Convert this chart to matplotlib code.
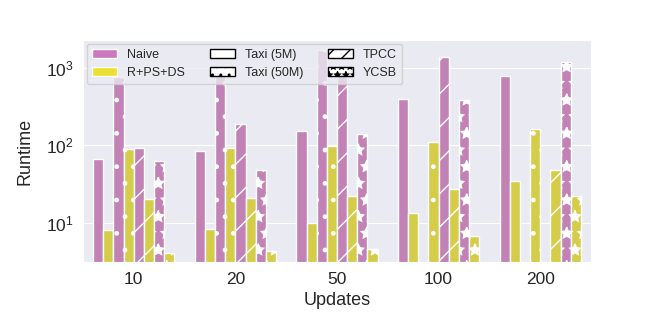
import numpy as np
import matplotlib
matplotlib.use("Agg")
import matplotlib.pyplot as plt
from matplotlib.patches import Patch
import seaborn as sns

updates = ["10", "20", "50", "100", "200"]
methods = ["Naive", "R+PS+DS"]
datasets = ["Taxi (5M)", "Taxi (50M)", "TPCC", "YCSB"]

# runtime per (dataset, method), one value per update count; nan = no bar
naive_taxi5 = [66, 84, 152, 395, 782]
rpsds_taxi5 = [8.1, 8.2, 9.8, 13.5, 34]
naive_taxi50 = [760, 780, 1700, np.nan, np.nan]
rpsds_taxi50 = [88, 91, 98, 111, 163]
naive_tpcc = [91, 186, 800, 1390, np.nan]
rpsds_tpcc = [20, 21, 22.3, 27, 48]
naive_ycsb = [62, 48, 141, 386, 1190]
rpsds_ycsb = [4.1, 4.3, 4.5, 6.8, 22]

series = [
    (naive_taxi5, 0, 0), (rpsds_taxi5, 1, 0),
    (naive_taxi50, 0, 1), (rpsds_taxi50, 1, 1),
    (naive_tpcc, 0, 2), (rpsds_tpcc, 1, 2),
    (naive_ycsb, 0, 3), (rpsds_ycsb, 1, 3),
]

sns.set_style("darkgrid")
plt.rcParams["font.family"] = ["Liberation Sans", "DejaVu Sans"]
plt.rcParams["mathtext.fontset"] = "custom"
plt.rcParams["mathtext.rm"] = "Liberation Sans"
plt.rcParams["mathtext.it"] = "Liberation Sans:italic"
plt.rcParams["hatch.color"] = "white"

base_colors = ["#CC78BC", "#ECE133"]
bar_colors = [sns.desaturate(c, 0.75) for c in base_colors]
hatches = ["", ".", "/", "*"]

fig = plt.figure(figsize=(6.58, 3.29), dpi=100)
ax = fig.add_axes([83 / 658, 1 - 262 / 329, 508 / 658, 222 / 329])

x = np.arange(len(updates))
width = 0.1
for i, (vals, m, d) in enumerate(series):
    ax.bar(x - 0.35 + i * width, vals, width, color=bar_colors[m],
           edgecolor="white", linewidth=1, hatch=hatches[d])

ax.set_yscale("log")
ax.set_ylim(3.1, 2280)
ax.set_xlim(-0.5, 4.5)
ax.set_xticks(x)
ax.set_xticklabels(updates)
ax.yaxis.set_minor_locator(matplotlib.ticker.NullLocator())
ax.grid(False, axis="x")
ax.tick_params(labelsize=12.5)
ax.set_xlabel("Updates", fontsize=13)
ax.set_ylabel("Runtime", fontsize=13, labelpad=9)

handles = [Patch(facecolor=base_colors[0], label=methods[0]),
           Patch(facecolor=base_colors[1], label=methods[1])]
for d, name in enumerate(datasets):
    handles.append(Patch(facecolor="white", edgecolor="black",
                         hatch=hatches[d] * 2 if hatches[d] else "", label=name))
ax.legend(handles=handles, ncol=3, loc="upper left", fontsize=9,
          borderaxespad=0.3)

fig.savefig("out.png", dpi=100)
